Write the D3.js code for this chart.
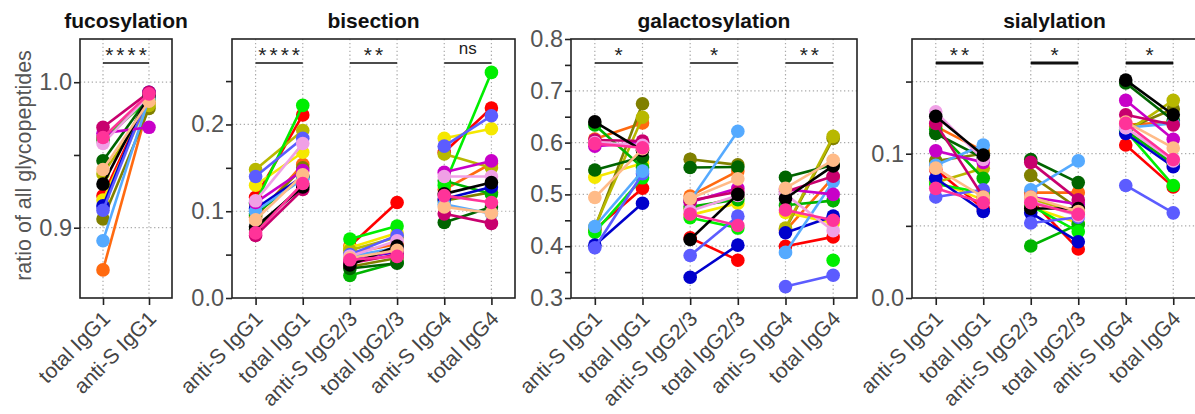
<!DOCTYPE html>
<html>
<head>
<meta charset="utf-8">
<script src="https://cdn.jsdelivr.net/npm/d3@7"></script>
<style>
  body { margin: 0; background: #fff; }
  text { font-family: "Liberation Sans", Arial, Helvetica, sans-serif; }
</style>
</head>
<body>
<svg id="chart" width="1195" height="414"></svg>
<script>
// One colour per donor, shared by every panel
const donorColors = [
  "#ff0000", "#ff6a10", "#f5e800", "#808000", "#b8b800", "#00b400",
  "#00ee00", "#006400", "#0000cc", "#5c5cff", "#55aaff", "#c800c8",
  "#c8006e", "#f0a0e6", "#000000", "#ffbb88", "#ff3399"
];

// Category labels
const fucCategories = ["total IgG1", "anti-S IgG1"];
const subclassCategories = ["anti-S IgG1", "total IgG1", "anti-S IgG2/3", "total IgG2/3", "anti-S IgG4", "total IgG4"];

// Fucosylation (IgG1)
const fucTotalIgG1 = [0.922, 0.871, 0.919, 0.906, 0.937, 0.960, 0.962, 0.946, 0.915, 0.912, 0.891, 0.965, 0.969, 0.958, 0.930, 0.940, 0.962];
const fucAntiSIgG1 = [0.990, 0.986, 0.988, 0.982, 0.984, 0.989, 0.988, 0.990, 0.993, 0.992, 0.989, 0.969, 0.993, 0.991, 0.991, 0.987, 0.992];

// Bisection
const bisAntiSIgG1  = [0.116, 0.093, 0.130, 0.095, 0.148, 0.097, 0.109, 0.079, 0.103, 0.140, 0.100, 0.110, 0.072, 0.112, 0.082, 0.090, 0.075];
const bisTotalIgG1  = [0.211, 0.154, 0.168, 0.150, 0.193, 0.139, 0.222, 0.130, 0.140, 0.184, 0.137, 0.147, 0.125, 0.178, 0.128, 0.142, 0.132];
const bisAntiSIgG23 = [0.060, 0.052, 0.058, 0.036, 0.055, 0.026, 0.068, 0.034, 0.045, 0.050, 0.048, 0.042, 0.040, 0.048, 0.038, 0.046, 0.044];
const bisTotalIgG23 = [0.110, 0.062, 0.075, 0.046, 0.070, 0.041, 0.083, 0.040, 0.053, 0.072, 0.058, 0.055, 0.050, 0.066, 0.060, 0.055, 0.048];
const bisAntiSIgG4  = [0.168, 0.125, 0.184, 0.112, 0.166, 0.135, 0.130, 0.087, 0.114, 0.175, 0.108, 0.145, 0.097, 0.140, 0.120, 0.105, 0.118];
const bisTotalIgG4  = [0.219, 0.155, 0.195, 0.122, 0.150, 0.120, 0.260, 0.105, 0.128, 0.210, 0.097, 0.158, 0.086, 0.140, 0.133, 0.098, 0.110];

// Galactosylation
const galAntiSIgG1  = [0.432, 0.607, 0.533, 0.435, 0.437, 0.634, 0.427, 0.547, 0.402, 0.397, 0.438, 0.593, 0.605, 0.600, 0.640, 0.494, 0.598];
const galTotalIgG1  = [0.512, 0.638, 0.560, 0.675, 0.649, 0.552, 0.532, 0.572, 0.483, 0.540, 0.545, 0.600, 0.603, 0.595, 0.585, 0.588, 0.590];
const galAntiSIgG23 = [0.416, 0.497, 0.460, 0.568, 0.472, 0.476, 0.455, 0.552, 0.340, 0.382, 0.488, 0.485, 0.488, 0.468, 0.413, 0.492, 0.462];
const galTotalIgG23 = [0.373, 0.545, 0.483, 0.557, 0.495, 0.490, 0.435, 0.553, 0.402, 0.458, 0.622, 0.512, 0.505, 0.498, 0.500, 0.530, 0.440];
const galAntiSIgG4  = [0.400, 0.430, 0.465, 0.433, 0.435, 0.479, null,  0.533, 0.426, 0.322, 0.388, 0.510, 0.505, 0.500, 0.492, 0.512, 0.470];
const galTotalIgG4  = [0.418, 0.533, 0.445, 0.608, 0.612, 0.488, 0.373, 0.557, 0.458, 0.344, 0.525, 0.500, 0.535, 0.430, 0.555, 0.566, 0.450];

// Sialylation
const siaAntiSIgG1  = [0.089, 0.119, 0.081, 0.095, 0.080, 0.117, 0.079, 0.114, 0.083, 0.070, 0.092, 0.102, 0.121, 0.129, 0.126, 0.090, 0.076];
const siaTotalIgG1  = [0.062, 0.102, 0.068, 0.100, 0.090, 0.083, 0.073, 0.097, 0.060, 0.075, 0.106, 0.094, 0.070, 0.096, 0.099, 0.070, 0.066];
const siaAntiSIgG23 = [0.068, 0.073, 0.063, 0.085, 0.068, 0.036, 0.064, 0.096, 0.059, 0.052, 0.075, 0.070, 0.094, 0.067, 0.062, 0.070, 0.066];
const siaTotalIgG23 = [0.034, 0.073, 0.052, 0.062, 0.060, 0.051, 0.046, 0.080, 0.039, 0.056, 0.095, 0.065, 0.068, 0.057, 0.062, 0.060, 0.058];
const siaAntiSIgG4  = [0.106, 0.120, 0.118, 0.117, 0.115, 0.116, 0.116, 0.149, 0.114, 0.078, 0.118, 0.137, 0.127, 0.118, 0.151, 0.122, 0.121];
const siaTotalIgG4  = [0.077, 0.122, 0.093, 0.131, 0.137, 0.093, 0.078, 0.123, 0.091, 0.059, 0.121, 0.110, 0.120, 0.095, 0.127, 0.104, 0.096];

// Significance annotations for each paired comparison
const fucSignificance = ["****"];
const bisSignificance = ["****", "**", "ns"];
const galSignificance = ["*", "*", "**"];
const siaSignificance = ["**", "*", "*"];

// Axis ticks (all ticks, labelled ticks, grid lines)
const fucTicks = [0.9, 0.95, 1.0],            fucLabels = [0.9, 1.0],           fucGrid = [0.9, 1.0];
const bisTicks = [0, 0.05, 0.1, 0.15, 0.2, 0.25], bisLabels = [0, 0.1, 0.2],   bisGrid = [0.1, 0.2];
const galTicks = [0.3, 0.35, 0.4, 0.45, 0.5, 0.55, 0.6, 0.65, 0.7, 0.75, 0.8];
const galLabels = [0.3, 0.4, 0.5, 0.6, 0.7, 0.8], galGrid = [0.4, 0.5, 0.6, 0.7];
const siaTicks = [0, 0.05, 0.1, 0.15],        siaLabels = [0, 0.1],             siaGrid = [0.05, 0.1, 0.15];

const panels = [
  { title: "fucosylation", cats: fucCategories, pairs: [[fucTotalIgG1, fucAntiSIgG1]],
    sig: fucSignificance, left: 80, right: 172, domain: [0.8517, 1.0297],
    ticks: fucTicks, labels: fucLabels, grid: fucGrid, sigWidth: 1.3 },
  { title: "bisection", cats: subclassCategories,
    pairs: [[bisAntiSIgG1, bisTotalIgG1], [bisAntiSIgG23, bisTotalIgG23], [bisAntiSIgG4, bisTotalIgG4]],
    sig: bisSignificance, left: 232, right: 515, domain: [0, 0.2985],
    ticks: bisTicks, labels: bisLabels, grid: bisGrid, sigWidth: 1.3 },
  { title: "galactosylation", cats: subclassCategories,
    pairs: [[galAntiSIgG1, galTotalIgG1], [galAntiSIgG23, galTotalIgG23], [galAntiSIgG4, galTotalIgG4]],
    sig: galSignificance, left: 571, right: 857, domain: [0.3, 0.8],
    ticks: galTicks, labels: galLabels, grid: galGrid, sigWidth: 1.3 },
  { title: "sialylation", cats: subclassCategories,
    pairs: [[siaAntiSIgG1, siaTotalIgG1], [siaAntiSIgG23, siaTotalIgG23], [siaAntiSIgG4, siaTotalIgG4]],
    sig: siaSignificance, left: 912, right: 1197, domain: [0, 0.1795],
    ticks: siaTicks, labels: siaLabels, grid: siaGrid, sigWidth: 3 }
];

const svg = d3.select("#chart");
const plotTop = 39, plotBottom = 298;
const fmt = d3.format(".1f");

svg.append("text")
  .attr("transform", `translate(31,${(plotTop + plotBottom) / 2 - 3}) rotate(-90)`)
  .attr("text-anchor", "middle")
  .attr("font-size", 21.5)
  .attr("fill", "#555")
  .text("ratio of all glycopeptides");

panels.forEach(p => {
  const g = svg.append("g");
  const x = d3.scalePoint().domain(p.cats).range([p.left, p.right]).padding(0.5);
  const y = d3.scaleLinear().domain(p.domain).range([plotBottom, plotTop]);

  // grid
  g.selectAll(".gx").data(p.cats).join("line")
    .attr("x1", d => x(d)).attr("x2", d => x(d)).attr("y1", plotTop).attr("y2", plotBottom)
    .attr("stroke", "#aaa").attr("stroke-width", 1.2).attr("stroke-dasharray", "1.3,2.6");
  g.selectAll(".gy").data(p.grid).join("line")
    .attr("x1", p.left).attr("x2", p.right).attr("y1", d => y(d)).attr("y2", d => y(d))
    .attr("stroke", "#aaa").attr("stroke-width", 1.2).attr("stroke-dasharray", "1.3,2.6");

  // frame
  g.append("rect").attr("x", p.left).attr("y", plotTop)
    .attr("width", p.right - p.left).attr("height", plotBottom - plotTop)
    .attr("fill", "none").attr("stroke", "#222").attr("stroke-width", 1.6);

  // y axis
  const yAxis = d3.axisLeft(y).tickValues(p.ticks).tickSize(6)
    .tickFormat(d => p.labels.some(l => Math.abs(l - d) < 1e-9) ? fmt(d) : "");
  const ya = g.append("g").attr("transform", `translate(${p.left},0)`).call(yAxis);
  ya.select(".domain").remove();
  ya.selectAll(".tick line").attr("stroke", "#222").attr("stroke-width", 1.6);
  ya.selectAll(".tick text").attr("font-size", 23.5).attr("fill", "#555")
    .attr("font-family", "'Liberation Sans', Arial, sans-serif").attr("x", -8);

  // x axis
  const xAxis = d3.axisBottom(x).tickSize(7).tickFormat(d => d);
  const xa = g.append("g").attr("transform", `translate(0,${plotBottom})`).call(xAxis);
  xa.select(".domain").remove();
  xa.selectAll(".tick line").attr("stroke", "#222").attr("stroke-width", 1.6);
  xa.selectAll(".tick text")
    .attr("font-size", 21).attr("fill", "#444")
    .attr("font-family", "'Liberation Sans', Arial, sans-serif")
    .attr("text-anchor", "end").attr("dy", 0).attr("y", 0)
    .attr("transform", "translate(8,22) rotate(-45)");

  // title
  g.append("text")
    .attr("x", (p.left + p.right) / 2).attr("y", 28)
    .attr("text-anchor", "middle").attr("font-size", 21).attr("font-weight", "bold")
    .attr("fill", "#111").text(p.title);

  // paired lines and points
  p.pairs.forEach((pair, i) => {
    const c0 = p.cats[2 * i], c1 = p.cats[2 * i + 1];
    const rows = donorColors.map((col, k) => ({ col, a: pair[0][k], b: pair[1][k] }));
    const pg = g.append("g");
    rows.forEach(r => {
      if (r.a != null && r.b != null) {
        pg.append("line")
          .attr("x1", x(c0)).attr("y1", y(r.a)).attr("x2", x(c1)).attr("y2", y(r.b))
          .attr("stroke", r.col).attr("stroke-width", 2.6);
      }
      if (r.a != null) pg.append("circle").attr("cx", x(c0)).attr("cy", y(r.a)).attr("r", 6.8).attr("fill", r.col);
      if (r.b != null) pg.append("circle").attr("cx", x(c1)).attr("cy", y(r.b)).attr("r", 6.8).attr("fill", r.col);
    });

    // significance bar
    g.append("line").attr("x1", x(c0)).attr("x2", x(c1)).attr("y1", 63).attr("y2", 63)
      .attr("stroke", "#111").attr("stroke-width", p.sigWidth);
    const label = p.sig[i];
    const isNs = label === "ns";
    g.append("text")
      .attr("x", (x(c0) + x(c1)) / 2 + (isNs ? 0 : 1.5)).attr("y", isNs ? 54 : 62)
      .attr("text-anchor", "middle")
      .attr("font-size", isNs ? 17 : 21)
      .attr("letter-spacing", isNs ? 0 : 3)
      .attr("fill", "#222")
      .text(label);
  });
});
</script>
</body>
</html>
